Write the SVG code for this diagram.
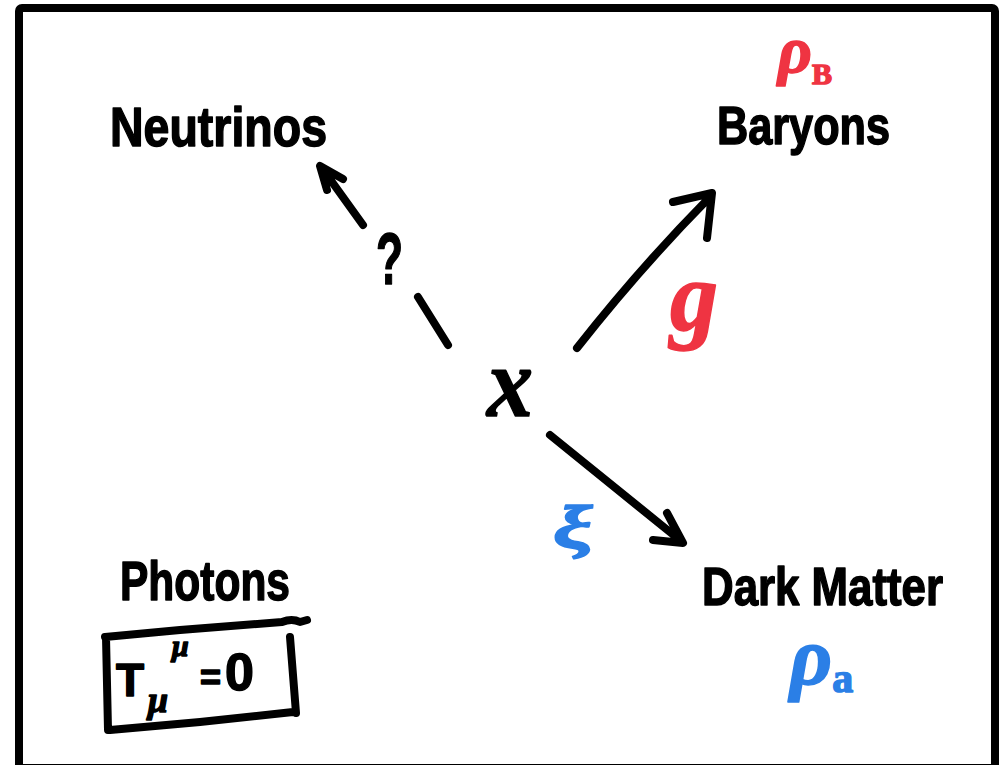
<svg xmlns="http://www.w3.org/2000/svg" width="1007" height="765" viewBox="0 0 1007 765">
  <style>
    .hand { font-family: "Liberation Sans", Arial, sans-serif; font-weight: bold; fill: #000; stroke: #000; stroke-width: 1.5; stroke-linejoin: round; }
    .math { font-family: "Liberation Serif", "Times New Roman", serif; font-style: italic; font-weight: bold; }
    .red { fill: #ef3442; stroke: #ef3442; }
    .blue { fill: #2b7fe6; stroke: #2b7fe6; }
    .pen { fill: none; stroke: #000; stroke-width: 8; stroke-linecap: round; stroke-linejoin: round; }
    .frame { fill: none; stroke: #000; stroke-width: 8; }
  </style>
  <rect x="0" y="0" width="1007" height="765" fill="#fff"/>
  <rect class="frame" x="19" y="8" width="976" height="760" rx="3"/>

  <g id="neutrinos">
    <text class="hand" x="110" y="146" font-size="56" textLength="217" lengthAdjust="spacingAndGlyphs">Neutrinos</text>
  </g>

  <g id="baryons">
    <text class="hand math red" x="778" y="72" font-size="66">ρ<tspan font-size="30" font-style="normal" dy="12">B</tspan></text>
    <text class="hand" x="717" y="144" font-size="54" textLength="173" lengthAdjust="spacingAndGlyphs">Baryons</text>
  </g>

  <g id="chi">
    <text class="hand math" x="487" y="416" font-size="100" stroke-width="2" textLength="46" lengthAdjust="spacingAndGlyphs">x</text>
  </g>

  <g id="darkmatter">
    <text class="hand" x="702" y="605" font-size="54" textLength="241" lengthAdjust="spacingAndGlyphs">Dark Matter</text>
    <text class="hand math blue" x="790" y="684" font-size="82">ρ<tspan font-size="42" font-style="normal" dy="8">a</tspan></text>
  </g>

  <g id="photons">
    <text class="hand" x="120" y="600" font-size="56" textLength="170" lengthAdjust="spacingAndGlyphs">Photons</text>
    <path class="pen" stroke-width="7" d="M105,637 L180,630 L282,622 Q292,618 300,622 L307,620 M106,637 L108,730 M110,730 L200,722 L293,712 M290,637 L296,713"/>
    <text class="hand" font-size="46"><tspan x="116" y="696">T</tspan><tspan class="math" x="148" y="712" font-size="36">μ</tspan><tspan class="math" x="172" y="656" font-size="30">μ</tspan><tspan x="200" y="690" font-size="36">=</tspan><tspan x="225" y="690" font-size="52">0</tspan></text>
  </g>

  <g id="connectors">
    <path class="pen" d="M448,345 L418,297 M363,225 L322,168 M343,179 L320,166 L327,190"/>
    <text class="hand" x="376" y="284" font-size="72" textLength="27" lengthAdjust="spacingAndGlyphs">?</text>
    <path class="pen" d="M577,348 Q640,268 707,200 M673,202 L712,193 L707,238"/>
    <text class="hand math red" x="670" y="330" font-size="100" textLength="48" lengthAdjust="spacingAndGlyphs">g</text>
    <path class="pen" d="M550,435 L681,541 M667,513 L683,543 L653,540"/>
    <text class="hand math blue" x="553" y="548" font-size="62" textLength="40" lengthAdjust="spacingAndGlyphs">ξ</text>
  </g>
</svg>
